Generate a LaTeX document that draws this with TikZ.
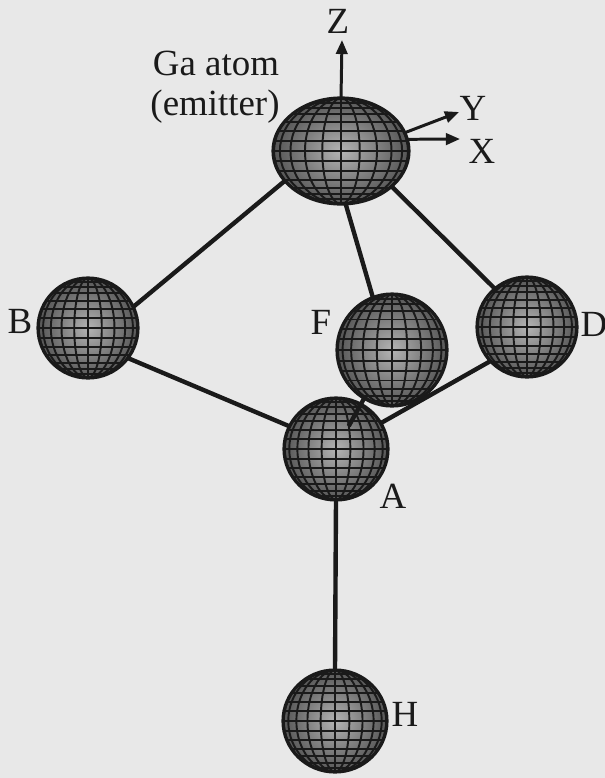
\documentclass[tikz,border=0pt]{standalone}
\usepackage{fontspec}
\setmainfont{Liberation Serif}
\usetikzlibrary{shapes.geometric,arrows.meta,calc}
\pgfdeclarelayer{paper}
\pgfdeclarelayer{bonds}
\pgfdeclarelayer{front}
\pgfsetlayers{paper,bonds,main,front}
\definecolor{paper}{HTML}{E8E8E8}
\definecolor{ink}{HTML}{1A1A1A}
\definecolor{ballhi}{HTML}{B4B4B4}
\definecolor{balllo}{HTML}{555555}

\tikzset{
  atomnode/.style={ellipse, inner sep=0pt, outer sep=0pt, draw=none},
  meshline/.style={draw=ink, line width=1.1pt},
  rim/.style={draw=ink, line width=1.8pt},
  bond/.style={draw=ink, line width=2.5pt},
  axis/.style={draw=ink, line width=1.7pt, -{Triangle[length=8pt,width=6.5pt]}},
  lbl/.style={font=\fontsize{21}{25}\selectfont, text=ink, inner sep=0pt, anchor=base},
}

% meshed atom: name, x, y, x radius, y radius
\newcommand\meshball[5]{%
  \node[atomnode, minimum width={#4*0.04cm}, minimum height={#5*0.04cm}] (#1) at (#2,#3) {};
  \begin{scope}
    \clip (#2,#3) ellipse [x radius=#4, y radius=#5];
    \shade[inner color=ballhi, outer color=balllo] (#2,#3) ellipse [x radius=#4, y radius=#5];
    \foreach \k in {-7,...,7}{
      \draw[meshline] ({#2-#4},{#3+#5*sin(\k*11)}) -- ++({2*#4},0);}
    \foreach \k in {1,...,5}{
      \draw[meshline] (#2,#3) ellipse [x radius={#4*sin(\k*16)}, y radius=#5];}
    \draw[meshline] (#2,{#3-#5}) -- (#2,{#3+#5});
  \end{scope}
  \draw[rim] (#2,#3) ellipse [x radius=#4, y radius=#5];
}

\begin{document}
\begin{tikzpicture}[x=0.02cm,y=-0.02cm]
\begin{pgfonlayer}{paper}
  \fill[paper] (0,0) rectangle (605,778);
\end{pgfonlayer}
\path[use as bounding box] (0,0) rectangle (605,778);

% atoms
\meshball{Ga}{341}{151}{68}{53}
\meshball{B}{88}{328}{50}{50}
\meshball{D}{527}{327}{50}{50}
\meshball{A}{336}{449}{52}{51}
\meshball{F}{392}{350}{55}{56}
\meshball{H}{335}{721}{52}{51}

% bonds
\begin{pgfonlayer}{bonds}
  \draw[bond] (Ga.208) -- (B.25);
  \draw[bond] (Ga.-85) -- (F.110);
  \draw[bond] (Ga.-35) -- (D.130);
  \draw[bond] (B.-37) -- (A.154);
  \draw[bond] (D.223) -- (A.30);
  \draw[bond] (A.south) -- (H.north);
\end{pgfonlayer}
\begin{pgfonlayer}{front}
  \draw[bond] (F.240) -- ($(F.240)!0.55!(A.center)$);
\end{pgfonlayer}

% axes
\coordinate (ztip) at (342,40);
\coordinate (ytip) at (459,112);
\coordinate (xtip) at (460,139);
\draw[axis] (Ga.north) -- (ztip);
\draw[axis] (Ga.16) -- (ytip);
\draw[axis] (Ga.10) -- (xtip);

% labels
\node[lbl] (gatext) at (216,75) {Ga atom};
\node[lbl] (emtext) at (215,115) {(emitter)};
\node[lbl] (zl) at (338,33) {Z};
\node[lbl] (yl) at (473,120) {Y};
\node[lbl] (xl) at (482,163) {X};
\node[lbl] (bl) at (20,333) {B};
\node[lbl] (fl) at (321,334) {F};
\node[lbl] (al) at (393,508) {A};
\node[lbl] (dl) at (594,336) {D};
\node[lbl] (hl) at (405,726) {H};
\end{tikzpicture}
\end{document}
